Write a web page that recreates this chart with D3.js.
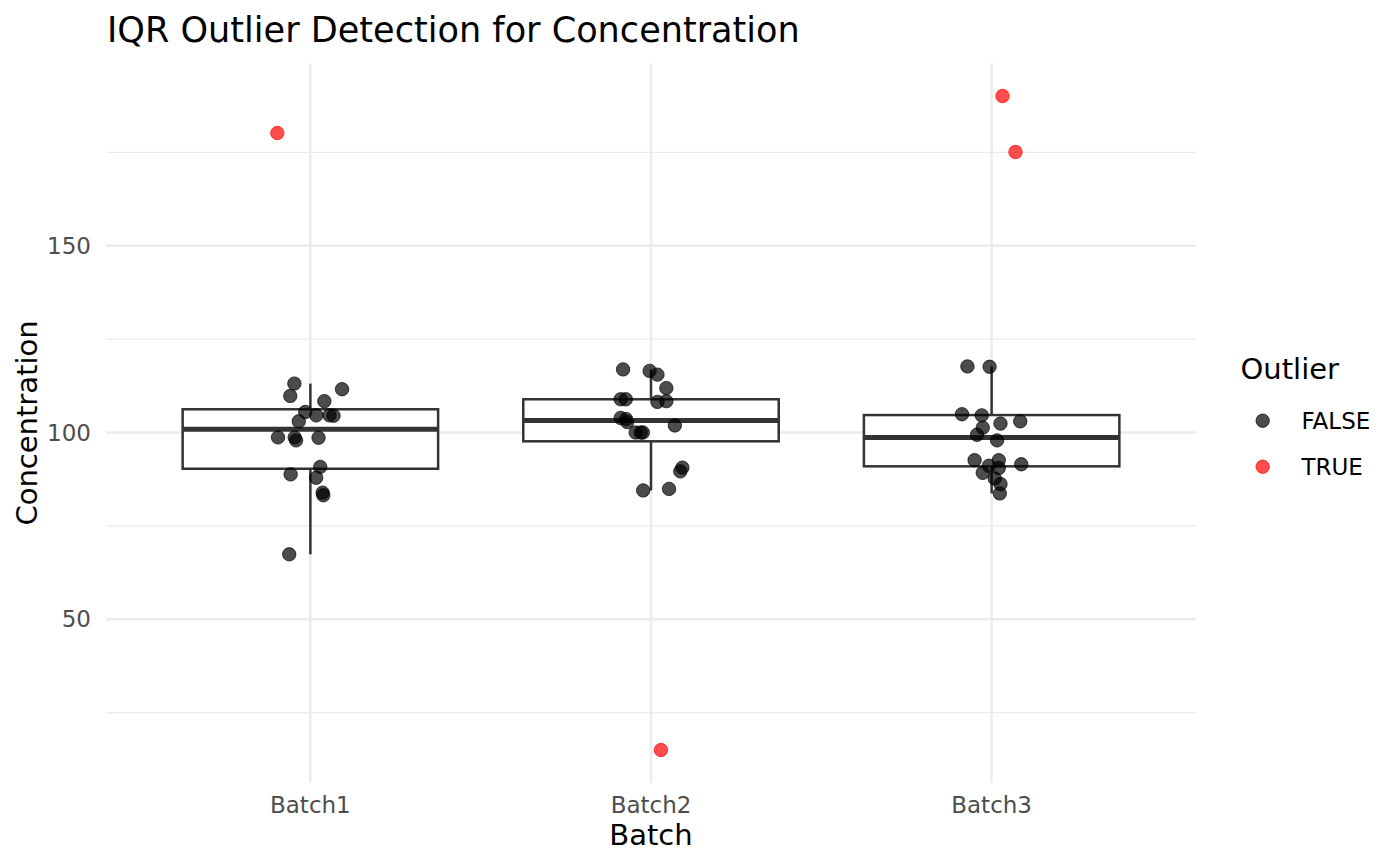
<!DOCTYPE html>
<html>
<head>
<meta charset="utf-8">
<script src="https://cdn.jsdelivr.net/npm/d3@7"></script>
<style>
  html, body { margin: 0; padding: 0; background: #ffffff; }
  svg { display: block; font-family: "DejaVu Sans", sans-serif; }
</style>
</head>
<body>
<svg id="chart" width="1400" height="866"></svg>
<script>
// ---- data ----
const batches = ["Batch1", "Batch2", "Batch3"];

const batch1Values = [113.1, 109.8, 111.6, 108.4, 105.5, 104.6, 104.6, 104.5, 103.0, 98.7,
                      98.7, 97.9, 98.6, 90.8, 88.8, 87.9, 83.9, 83.2, 67.4, 180.2];
const batch1Jitter = [-0.047, -0.059, 0.093, 0.041, -0.015, 0.017, 0.056, 0.068, -0.034, -0.095,
                      -0.046, -0.042, 0.024, 0.029, -0.058, 0.017, 0.036, 0.038, -0.062, -0.097];

const batch2Values = [116.9, 116.5, 115.5, 111.9, 108.9, 108.9, 108.2, 108.4, 103.9, 103.6,
                      102.8, 101.9, 100.0, 100.0, 100.0, 90.6, 89.6, 84.5, 84.9, 15.0];
const batch2Jitter = [-0.082, -0.004, 0.019, 0.045, -0.089, -0.074, 0.019, 0.045, -0.089, -0.073,
                      -0.070, 0.070, -0.045, -0.030, -0.024, 0.092, 0.086, -0.023, 0.053, 0.029];

const batch3Values = [117.7, 117.6, 104.9, 104.6, 102.4, 103.0, 101.3, 99.4, 97.9, 92.6,
                      92.6, 91.5, 91.1, 90.5, 89.2, 87.7, 86.2, 83.7, 190.1, 175.1];
const batch3Jitter = [-0.071, -0.006, -0.087, -0.029, 0.026, 0.084, -0.026, -0.043, 0.016, -0.050,
                      0.021, 0.087, -0.008, 0.021, -0.026, 0.009, 0.026, 0.024, 0.032, 0.070];

const yMajorTicks = [50, 100, 150];
const yMinorTicks = [25, 75, 125, 175];
const legendLabels = ["FALSE", "TRUE"];

const titleText = "IQR Outlier Detection for Concentration";
const xTitle = "Batch";
const yTitle = "Concentration";
const legendTitle = "Outlier";

// ---- build ----
const valuesByBatch = [batch1Values, batch2Values, batch3Values];
const jitterByBatch = [batch1Jitter, batch2Jitter, batch3Jitter];

const stats = batches.map((b, i) => {
  const s = valuesByBatch[i].slice().sort(d3.ascending);
  const q1 = d3.quantile(s, 0.25), med = d3.quantile(s, 0.5), q3 = d3.quantile(s, 0.75);
  const iqr = q3 - q1;
  const lo = q1 - 1.5 * iqr, hi = q3 + 1.5 * iqr;
  const inside = s.filter(v => v >= lo && v <= hi);
  return { batch: b, q1, med, q3, lo, hi, wlo: d3.min(inside), whi: d3.max(inside) };
});

const points = [];
batches.forEach((b, i) => {
  valuesByBatch[i].forEach((v, j) => {
    points.push({ batch: b, value: v, jitter: jitterByBatch[i][j],
                  outlier: v < stats[i].lo || v > stats[i].hi });
  });
});

const panel = { left: 106, right: 1196, top: 63.3, bottom: 782.7 };

const x = d3.scalePoint().domain(batches).range([panel.left, panel.right]).padding(0.6);
const step = x.step();

const allVals = points.map(p => p.value);
const [vmin, vmax] = d3.extent(allVals);
const span = vmax - vmin;
const y = d3.scaleLinear().domain([vmin - 0.05 * span, vmax + 0.05 * span])
            .range([panel.bottom, panel.top]);

const svg = d3.select("#chart");
const grid = "#ebebeb";

// minor grid
svg.append("g").selectAll("line").data(yMinorTicks).join("line")
  .attr("x1", panel.left).attr("x2", panel.right)
  .attr("y1", d => y(d)).attr("y2", d => y(d))
  .attr("stroke", grid).attr("stroke-width", 1.2);
// major grid
svg.append("g").selectAll("line").data(yMajorTicks).join("line")
  .attr("x1", panel.left).attr("x2", panel.right)
  .attr("y1", d => y(d)).attr("y2", d => y(d))
  .attr("stroke", grid).attr("stroke-width", 2.3);
svg.append("g").selectAll("line").data(batches).join("line")
  .attr("x1", d => x(d)).attr("x2", d => x(d))
  .attr("y1", panel.top).attr("y2", panel.bottom)
  .attr("stroke", grid).attr("stroke-width", 2.3);

// boxplots
const boxW = 0.75 * step;
const lw = 2.5;
const bp = svg.append("g").attr("stroke", "#333333").attr("fill", "none");
stats.forEach(s => {
  const cx = x(s.batch);
  bp.append("line").attr("x1", cx).attr("x2", cx).attr("y1", y(s.q3)).attr("y2", y(s.whi)).attr("stroke-width", lw);
  bp.append("line").attr("x1", cx).attr("x2", cx).attr("y1", y(s.q1)).attr("y2", y(s.wlo)).attr("stroke-width", lw);
  bp.append("rect").attr("x", cx - boxW / 2).attr("width", boxW)
    .attr("y", y(s.q3)).attr("height", y(s.q1) - y(s.q3))
    .attr("fill", "#ffffff").attr("stroke-width", lw);
  bp.append("line").attr("x1", cx - boxW / 2).attr("x2", cx + boxW / 2)
    .attr("y1", y(s.med)).attr("y2", y(s.med)).attr("stroke-width", lw * 2);
});

// points
const colFalse = "rgba(0,0,0,0.7)", colTrue = "rgba(255,0,0,0.7)";
const pr = 6.7;
svg.append("g").selectAll("circle").data(points).join("circle")
  .attr("cx", d => x(d.batch) + d.jitter * step)
  .attr("cy", d => y(d.value))
  .attr("r", pr)
  .attr("fill", d => d.outlier ? colTrue : colFalse)
  .attr("stroke", d => d.outlier ? colTrue : colFalse)
  .attr("stroke-width", 1);

// axes labels
svg.append("g").selectAll("text").data(yMajorTicks).join("text")
  .attr("x", panel.left - 15).attr("y", d => y(d)).attr("dy", "0.35em")
  .attr("text-anchor", "end").attr("font-size", 23).attr("fill", "#4d4d4d")
  .text(d => d);
svg.append("g").selectAll("text").data(batches).join("text")
  .attr("x", d => x(d)).attr("y", panel.bottom + 30)
  .attr("text-anchor", "middle").attr("font-size", 23).attr("fill", "#4d4d4d")
  .text(d => d);

svg.append("text").attr("x", (panel.left + panel.right) / 2).attr("y", 845)
  .attr("text-anchor", "middle").attr("font-size", 29).attr("fill", "#000")
  .text(xTitle);
svg.append("text").attr("transform", `translate(36.5,${(panel.top + panel.bottom) / 2}) rotate(-90)`)
  .attr("text-anchor", "middle").attr("font-size", 29).attr("fill", "#000")
  .text(yTitle);

svg.append("text").attr("x", 107).attr("y", 41.7)
  .attr("font-size", 35.1).attr("fill", "#000").text(titleText);

// legend
const lg = svg.append("g");
lg.append("text").attr("x", 1240.5).attr("y", 379.3).attr("font-size", 29).attr("fill", "#000").text(legendTitle);
const keyY = d3.scalePoint().domain(legendLabels).range([420.7, 466.7]);
lg.selectAll("circle").data(legendLabels).join("circle")
  .attr("cx", 1262.7).attr("cy", d => keyY(d)).attr("r", pr)
  .attr("fill", d => d === "TRUE" ? colTrue : colFalse)
  .attr("stroke", d => d === "TRUE" ? colTrue : colFalse).attr("stroke-width", 1);
lg.selectAll("text.lab").data(legendLabels).join("text").attr("class", "lab")
  .attr("x", 1301.5).attr("y", d => keyY(d)).attr("dy", "0.36em")
  .attr("font-size", 23).attr("fill", "#000").text(d => d);
</script>
</body>
</html>
